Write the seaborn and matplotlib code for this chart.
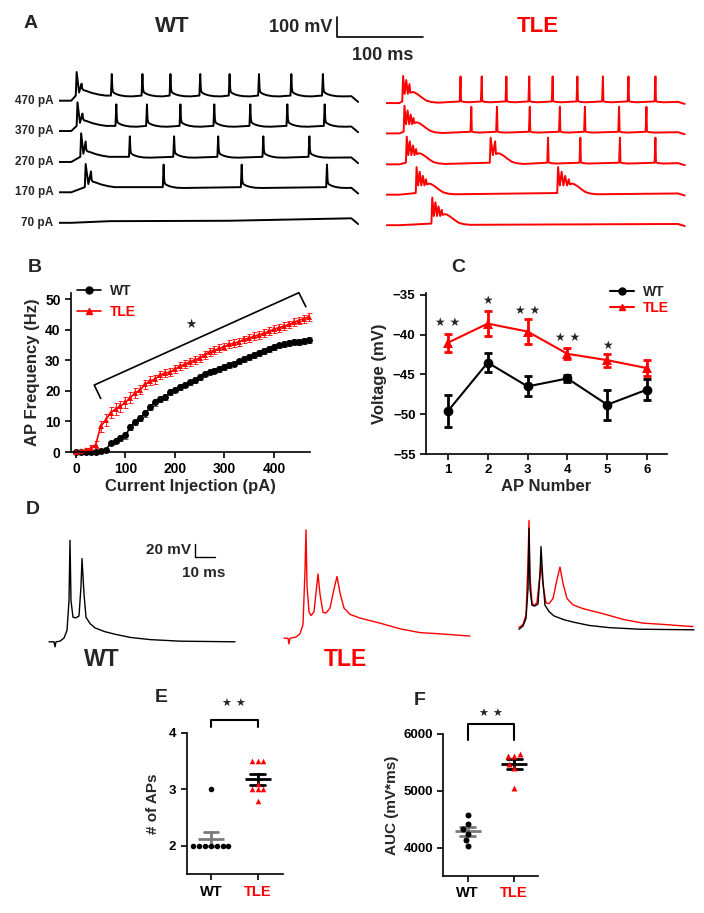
import matplotlib
matplotlib.use("Agg")
import matplotlib.pyplot as plt
from matplotlib.lines import Line2D
import numpy as np
import pandas as pd
import seaborn as sns

W, H = 704, 913
RED = "#ff0000"

#%%
#  Data

# A: spike times (ms from sweep start) and peak heights (mV above rest)
sweeps = ["470 pA", "370 pA", "270 pA", "170 pA", "70 pA"]
sweep_offset = [596, 448, 297, 149, 0]
wt_times = [
    [21.3, 27.1, 62.6, 98.6, 131.5, 166.5, 201.0, 235.5, 273.5, 310.6],
    [22.3, 28.1, 67.9, 103.9, 143.2, 183.0, 225.3, 268.8, 312.7],
    [26.6, 31.9, 83.8, 135.8, 187.6, 240.6, 294.7],
    [31.9, 38.2, 123.5, 215.2, 315.4],
    [],
]
wt_heights = [
    [140, 83, 130, 130, 130, 130, 130, 130, 130, 130],
    [140, 85, 130, 130, 130, 130, 130, 130, 130],
    [140, 100, 125, 125, 125, 125, 125],
    [138, 102, 135, 135, 135],
    [],
]
tle_times = [
    [19.6, 23.3, 27.1, 87.4, 112.4, 141.5, 168.5, 196.1, 225.3, 255.4, 285.6, 317.4],
    [21.2, 24.9, 28.6, 31.8, 100.1, 130.4, 169.1, 204.6, 234.2, 274.5, 306.8],
    [23.9, 27.5, 31.2, 34.9, 122.9, 128.2, 190.7, 228.8, 275.5, 317.4],
    [35.5, 39.2, 42.9, 46.6, 202.5, 206.7, 210.9, 215.2],
    [54.0, 57.8, 61.4, 65.2],
]
tle_heights = [
    [133, 112, 93, 130, 130, 130, 130, 130, 130, 130, 130, 130],
    [135, 112, 92, 75, 130, 130, 130, 130, 130, 130, 130],
    [135, 112, 92, 75, 130, 112, 130, 130, 130, 130],
    [135, 112, 92, 75, 135, 112, 92, 75],
    [135, 112, 92, 75],
]

# B: AP frequency vs current injection
currents = list(range(0, 480, 10))
wt_freq = [0, 0, 0, 0, 0.1, 0.3, 0.5, 2.9, 3.7, 4.5, 5.4, 8.2, 9.8, 11.0, 12.6, 14.7,
           16.2, 17.4, 17.9, 19.6, 20.4, 21.2, 22.0, 22.8, 23.6, 24.6, 25.6, 26.3,
           26.6, 27.1, 27.8, 28.4, 28.9, 29.6, 30.4, 31.0, 31.7, 32.4, 33.1, 33.7,
           34.3, 34.9, 35.3, 35.6, 35.9, 36.0, 36.3, 36.6]
wt_freq_se = [0, 0, 0, 0, 0.1, 0.2, 0.3, 0.7, 0.8, 0.9, 1.0, 1.0, 1.0, 1.0, 1.0, 1.0,
              1.0, 1.0, 1.0, 0.9, 0.9, 0.9, 0.9, 0.9, 0.9, 0.9, 0.9, 0.9,
              0.9, 0.9, 0.9, 0.9, 0.9, 0.9, 0.9, 0.9, 0.9, 0.9, 0.9, 0.9,
              0.9, 0.9, 0.9, 0.9, 0.9, 0.9, 0.9, 0.9]
tle_freq = [0, 0.2, 0.6, 1.3, 2.4, 8.4, 10.4, 12.9, 14.0, 15.0, 16.2, 17.8, 19.3, 20.4,
            22.1, 23.3, 23.8, 25.2, 25.8, 26.2, 27.0, 28.1, 28.7, 29.5, 30.1, 30.7,
            31.8, 32.7, 33.3, 33.9, 34.5, 35.2, 35.6, 36.1, 36.8, 37.3, 37.8, 38.4,
            38.8, 39.5, 40.1, 40.7, 41.1, 41.7, 42.4, 43.0, 43.6, 44.2]
tle_freq_se = [0, 0.3, 0.6, 0.9, 1.2, 1.8, 1.9, 1.9, 1.9, 1.8, 1.8, 1.7, 1.6, 1.5,
               1.5, 1.4, 1.4, 1.3, 1.3, 1.3, 1.3, 1.3, 1.3, 1.3, 1.3, 1.3,
               1.3, 1.3, 1.3, 1.3, 1.3, 1.3, 1.3, 1.3, 1.3, 1.3, 1.3, 1.3,
               1.3, 1.3, 1.3, 1.3, 1.3, 1.3, 1.3, 1.3, 1.3, 1.3]

# C: threshold voltage per AP number
ap_number = [1, 2, 3, 4, 5, 6]
wt_volt = [-49.6, -43.5, -46.5, -45.5, -48.8, -46.9]
wt_volt_se = [2.0, 1.2, 1.25, 0.45, 1.9, 1.3]
tle_volt = [-41.0, -38.6, -39.6, -42.4, -43.2, -44.2]
tle_volt_se = [1.15, 1.55, 1.6, 0.7, 0.8, 1.0]
c_star_y = [-38.4, -35.7, -37.0, -40.3, -41.3]
c_star_txt = ["★ ★", "★", "★ ★", "★ ★", "★"]

# D: single burst traces, keypoints (ms, mV)
d_wt_t = [0, 1.5, 2.5, 3, 3.5, 5.5, 7.5, 9, 10, 10.5, 11, 12, 13.5, 15, 16, 16.5,
          17.5, 18.5, 20.5, 23, 28, 33, 40.5, 50.5, 65.5, 93]
d_wt_v = [-65, -65, -65, -73, -65, -64, -59, -47, 0, 96, 0, -26, -27, -24, 23, 67,
          11, -26, -36, -43, -49, -53, -58, -61.5, -64, -65]
d_tle_t = [0, 1.5, 2, 2.5, 3, 6, 8, 9.5, 10.5, 11, 11.5, 12.5, 13.5, 15, 16, 17, 18,
           19.5, 21, 23, 25, 26.5, 28, 30, 33, 38, 48, 58, 68, 78, 93]
d_tle_v = [-65, -65, -65, -74, -65, -63, -58, -43, 42, 107, 18, -23, -29, -23, 7, 37, 5,
           -24, -25, -17, 13, 33, 7, -17, -27, -33, -41, -50, -56, -58, -61.5]

# E, F: individual cells
groups = ["WT", "TLE"]
e_wt = [2, 2, 2, 2, 2, 2, 2, 3]
e_tle = [3.5, 3.5, 3.5, 3.1, 3.0, 3.0, 3.0, 2.8]
f_wt = [4580, 4410, 4320, 4240, 4130, 4030]
f_tle = [5650, 5620, 5620, 5470, 5400, 5050]

#%%
#  Style

sns.set_style("ticks")
plt.rcParams["font.family"] = ["Liberation Sans", "DejaVu Sans"]
plt.rcParams["font.weight"] = "bold"
plt.rcParams["axes.labelweight"] = "bold"
plt.rcParams["axes.linewidth"] = 1.2
plt.rcParams["xtick.major.width"] = 1.2
plt.rcParams["ytick.major.width"] = 1.2
plt.rcParams["xtick.major.size"] = 4
plt.rcParams["ytick.major.size"] = 4
plt.rcParams["xtick.color"] = "black"
plt.rcParams["ytick.color"] = "black"
plt.rcParams["axes.edgecolor"] = "black"

fig = plt.figure(figsize=(W / 100, H / 100), dpi=100)


def box(x0, y0, x1, y1):
    return fig.add_axes([x0 / W, 1 - y1 / H, (x1 - x0) / W, (y1 - y0) / H])


def ftext(x, y, s, **kw):
    kw.setdefault("ha", "center")
    kw.setdefault("va", "center")
    kw.setdefault("fontweight", "bold")
    fig.text(x / W, 1 - y / H, s, **kw)


def fline(xs, ys, **kw):
    fig.add_artist(Line2D([x / W for x in xs], [1 - y / H for y in ys],
                          transform=fig.transFigure, **kw))


STAR = dict(family="DejaVu Sans", ha="center", va="center")

#%%
#  A: firing traces

wt_shape = dict(thr=25, trough=40, late=22, end=-6,
                tail=[(0.7, 58), (1.5, 42), (3, 37), (6, 31), (10, 26), (16, 22), (24, 21)],
                burst_tail=[(0.7, 60), (2, 52), (6, 47), (12, 38), (20, 30), (28, 25)],
                quiet=[(60, 8), (200, 10)])
tle_shape = dict(thr=8, trough=45, late=6, end=-4,
                 tail=[(0.6, 10), (3, 6), (10, 4)],
                 burst_tail=[(1, 50), (3, 54), (6, 52), (10, 42), (15, 26), (20, 12),
                             (26, 5), (34, 2)],
                 quiet=[(60, 4), (200, 5)])


def trace_points(times, heights, shape, t_end=352, t_on=15):
    pts = [(0, 0), (t_on, 0)]
    if not times:
        pts += shape["quiet"]
    for i, (t, h) in enumerate(zip(times, heights)):
        prev_close = i > 0 and t - times[i - 1] < 8
        next_close = i + 1 < len(times) and times[i + 1] - t < 8
        if not prev_close:
            pts.append((t - 1.0, shape["thr"]))
        pts.append((t, h))
        if next_close:
            pts.append(((t + times[i + 1]) / 2, shape["trough"]))
        else:
            tail = shape["burst_tail"] if prev_close else shape["tail"]
            pts += [(t + dt, dv) for dt, dv in tail]
    pts += [(t_end - 8, shape["late"]), (t_end, shape["end"])]
    x, y = zip(*pts)
    return np.array(x), np.array(y)


axA1 = box(58.5, 55, 359, 235)
axA2 = box(386.5, 57.4, 685.6, 237.4)
for ax, times, heights, shape, col in [(axA1, wt_times, wt_heights, wt_shape, "black"),
                                       (axA2, tle_times, tle_heights, tle_shape, RED)]:
    for lab, off, tt, hh in zip(sweeps, sweep_offset, times, heights):
        x, y = trace_points(tt, hh, shape)
        ax.plot(x, y + off, color=col, lw=1.4, solid_joinstyle="round")
        if ax is axA1:
            ax.text(-6, off, lab, ha="right", va="center", fontsize=8.5, fontweight="bold")
    ax.set_xlim(0, 353)
    ax.set_ylim(-59.5, 819)
    ax.axis("off")

ftext(31, 24, "A", fontsize=14)
ftext(172, 27, "WT", fontsize=16)
ftext(538, 27, "TLE", fontsize=16, color=RED)
ftext(332, 27, "100 mV", fontsize=13, ha="right")
ftext(383, 56, "100 ms", fontsize=13)
fline([337, 337, 423], [17, 37.5, 37.5], color="black", lw=1.2)

#%%
#  B: frequency-current curve

axB = box(71, 293, 310, 452)
b_df = pd.DataFrame({"current": currents * 2,
                     "freq": wt_freq + tle_freq,
                     "group": ["WT"] * len(currents) + ["TLE"] * len(currents)})
axB.errorbar(currents, wt_freq, yerr=wt_freq_se, fmt="none", ecolor="#444444",
             elinewidth=0.6, capsize=1.8, capthick=0.6, clip_on=False)
axB.errorbar(currents, tle_freq, yerr=tle_freq_se, fmt="none", ecolor=RED,
             elinewidth=0.6, capsize=1.8, capthick=0.6, clip_on=False)
sns.lineplot(data=b_df, x="current", y="freq", hue="group", style="group",
             hue_order=groups, style_order=groups,
             palette={"WT": "black", "TLE": RED}, markers={"WT": "o", "TLE": "^"},
             dashes=False, markersize=5, markeredgewidth=0, lw=1.2,
             legend=False, ax=axB, clip_on=False)
axB.plot([50, 37, 450.5, 464.6], [17.5, 21.9, 52.1, 47.5], color="black", lw=1.2,
         clip_on=False)
axB.text(233, 41.7, "★", fontsize=9, **STAR)
axB.set_xlim(-10, 473)
axB.set_ylim(0, 52)
axB.set_xticks([0, 100, 200, 300, 400])
axB.set_yticks([0, 10, 20, 30, 40, 50])
axB.tick_params(labelsize=10)
axB.set_xlabel("Current Injection (pA)", fontsize=12, labelpad=2)
axB.set_ylabel("AP Frequency (Hz)", fontsize=12, labelpad=4)
sns.despine(ax=axB)
hB = [Line2D([], [], color="black", marker="o", markersize=5, lw=1.2),
      Line2D([], [], color=RED, marker="^", markersize=5, lw=1.2)]
legB = axB.legend(hB, groups, loc="upper left", bbox_to_anchor=(77 / W, 1 - 284 / H),
                  bbox_transform=fig.transFigure, frameon=False, fontsize=10,
                  handlelength=1.7, handletextpad=0.7, borderpad=0, borderaxespad=0,
                  labelspacing=0.5)
legB.get_texts()[1].set_color(RED)
ftext(35, 268, "B", fontsize=14)

#%%
#  C: voltage by AP number

axC = box(426, 293, 667, 454)
c_df = pd.DataFrame({"ap": ap_number * 2, "volt": wt_volt + tle_volt,
                     "group": ["WT"] * 6 + ["TLE"] * 6})
axC.errorbar(ap_number, wt_volt, yerr=wt_volt_se, fmt="none", ecolor="black",
             elinewidth=2, capsize=3, capthick=2)
axC.errorbar(ap_number, tle_volt, yerr=tle_volt_se, fmt="none", ecolor=RED,
             elinewidth=2, capsize=3, capthick=2)
sns.lineplot(data=c_df, x="ap", y="volt", hue="group", style="group",
             hue_order=groups, style_order=groups,
             palette={"WT": "black", "TLE": RED}, markers={"WT": "o", "TLE": "^"},
             dashes=False, markersize=7, markeredgewidth=0, lw=1.5,
             legend=False, ax=axC)
for x, y, s in zip(ap_number, c_star_y, c_star_txt):
    axC.text(x, y, s, fontsize=8.5, **STAR)
axC.set_xlim(0.45, 6.5)
axC.set_ylim(-55, -34.75)
axC.set_xticks(ap_number)
axC.set_yticks([-55, -50, -45, -40, -35])
axC.tick_params(labelsize=9.5)
axC.set_xlabel("AP Number", fontsize=12, labelpad=2)
axC.set_ylabel("Voltage (mV)", fontsize=12, labelpad=4)
sns.despine(ax=axC)
hC = [Line2D([], [], color="black", marker="o", markersize=5, lw=1.5),
      Line2D([], [], color=RED, marker="^", markersize=5, lw=1.5)]
legC = axC.legend(hC, groups, loc="upper left", bbox_to_anchor=(610 / W, 1 - 285 / H),
                  bbox_transform=fig.transFigure, frameon=False, fontsize=10,
                  handlelength=1.7, handletextpad=0.7, borderpad=0, borderaxespad=0,
                  labelspacing=0.15)
legC.get_texts()[1].set_color(RED)
ftext(458, 268, "C", fontsize=14)

#%%
#  D: burst waveforms

axD = box(40, 505, 704, 665)
wt_t, wt_v = np.array(d_wt_t), np.array(d_wt_v)
tle_t, tle_v = np.array(d_tle_t), np.array(d_tle_v)
axD.plot(wt_t + 4.5, wt_v, color="black", lw=1.0)
axD.plot(tle_t + 122, tle_v + 5.6, color=RED, lw=1.0)
keep_tle = tle_t >= 5.5
keep_wt = wt_t >= 5.5
axD.plot(tle_t[keep_tle] + 233.5, tle_v[keep_tle] + 20.6, color=RED, lw=1.0)
axD.plot(wt_t[keep_wt] + 234, wt_v[keep_wt] + 19, color="black", lw=1.0)
axD.plot([77.5, 77.5, 87.5], [89.6, 69.6, 69.6], color="black", lw=1.0)
axD.text(75.5, 81, "20 mV", ha="right", va="center", fontsize=11, fontweight="bold")
axD.text(82, 44.5, "10 ms", ha="center", va="center", fontsize=11, fontweight="bold")
axD.set_xlim(0, 332)
axD.set_ylim(-101.8, 152)
axD.axis("off")
ftext(33, 509, "D", fontsize=14)
ftext(102, 659, "WT", fontsize=16.5)
ftext(345, 659, "TLE", fontsize=16.5, color=RED)

#%%
#  E, F: scatter with mean +/- SEM


def scatter_panel(ax, wt_vals, tle_vals, size):
    df = pd.DataFrame({"group": ["WT"] * len(wt_vals) + ["TLE"] * len(tle_vals),
                       "value": wt_vals + tle_vals})
    sns.swarmplot(data=df[df.group == "WT"], x="group", y="value", order=groups,
                  color="black", marker="o", size=size, linewidth=0, ax=ax,
                  clip_on=False, warn_thresh=1)
    sns.swarmplot(data=df[df.group == "TLE"], x="group", y="value", order=groups,
                  color=RED, marker="^", size=size, linewidth=0, ax=ax,
                  clip_on=False, warn_thresh=1)
    sns.pointplot(data=df, x="group", y="value", order=groups, hue="group",
                  hue_order=groups, palette={"WT": "#7a7a7a", "TLE": "black"},
                  errorbar="se", capsize=0.32, markers="_", linestyles="none",
                  markersize=19, markeredgewidth=2, err_kws={"linewidth": 2},
                  legend=False, ax=ax)
    ax.set_xlabel("")
    ax.tick_params(labelsize=9.5)
    ax.tick_params(axis="x", labelsize=10.5)
    ax.get_xticklabels()[1].set_color(RED)
    sns.despine(ax=ax)


axE = box(186.7, 732.7, 283.3, 874.3)
scatter_panel(axE, e_wt, e_tle, 4.0)
axE.set_xlim(-0.52, 1.55)
axE.set_ylim(1.5, 4.0)
axE.set_yticks([2, 3, 4])
axE.set_ylabel("# of APs", fontsize=11, labelpad=6)
axE.plot([0, 0, 1, 1], [4.106, 4.225, 4.225, 4.106], color="black", lw=1.5,
         clip_on=False)
axE.text(0.5, 4.51, "★ ★", fontsize=8, **STAR)
ftext(161, 697, "E", fontsize=14)

axF = box(443.3, 734, 538.3, 876)
scatter_panel(axF, f_wt, f_tle, 4.3)
axF.set_xlim(-0.52, 1.52)
axF.set_ylim(3500, 6000)
axF.set_yticks([4000, 5000, 6000])
axF.set_ylabel("AUC (mV*ms)", fontsize=11, labelpad=3)
axF.plot([0, 0, 1, 1], [5894, 6171, 6171, 5894], color="black", lw=1.5,
         clip_on=False)
axF.text(0.5, 6347, "★ ★", fontsize=8, **STAR)
ftext(420, 700, "F", fontsize=14)

fig.savefig("out.png", dpi=100)
